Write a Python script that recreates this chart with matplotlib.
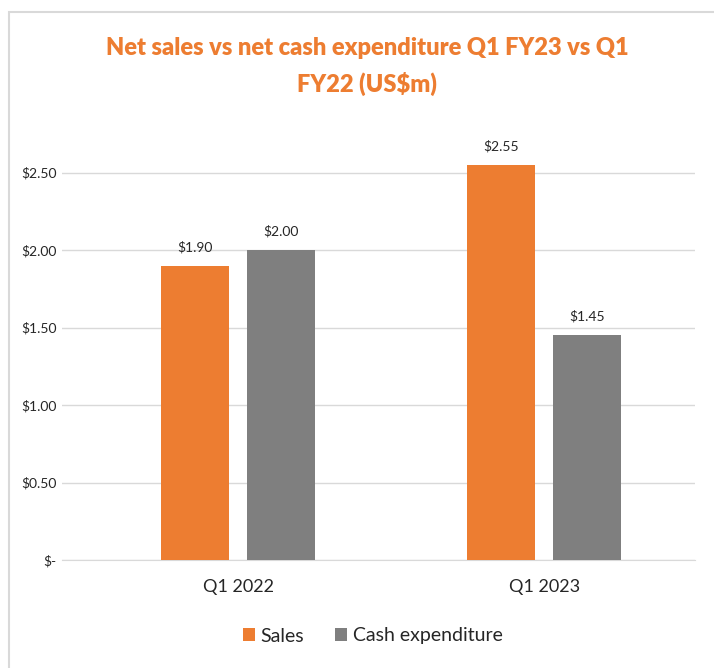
import matplotlib
matplotlib.use("Agg")
import matplotlib.pyplot as plt
from matplotlib.patches import Rectangle
from matplotlib.ticker import FuncFormatter
import numpy as np

categories = ["Q1 2022", "Q1 2023"]
sales = [1.90, 2.55]
cash_exp = [2.00, 1.45]
series_names = ["Sales", "Cash expenditure"]
yticks = [0, 0.5, 1.0, 1.5, 2.0, 2.5]

plt.rcParams['font.family'] = ['Lato', 'DejaVu Sans']

W, H = 714, 668
fig = plt.figure(figsize=(W/100, H/100), dpi=100)
fig.patches.append(Rectangle((9/W, -0.05), 1.2, 1 - 12/H + 0.05, transform=fig.transFigure,
                             fill=False, edgecolor='#D9D9D9', linewidth=1.5))

ax = fig.add_axes([62/W, 1-560/H, (695-62)/W, (560-103)/H])
orange = '#ED7D31'
gray = '#7F7F7F'
x = np.arange(len(categories))
bw = 0.222
gap = 0.059
off = (bw + gap) / 2
b1 = ax.bar(x - off, sales, bw, color=orange, label=series_names[0], zorder=3)
b2 = ax.bar(x + off, cash_exp, bw, color=gray, label=series_names[1], zorder=3)

for bars in (b1, b2):
    for r in bars:
        ax.annotate(f"${r.get_height():.2f}", (r.get_x() + r.get_width()/2, r.get_height()),
                    xytext=(0, 9), textcoords='offset points', ha='center', va='bottom',
                    fontsize=10, color='#262626')

ax.set_xlim(-0.575, 1.493)
ax.set_ylim(0, 2.95)
ax.set_yticks(yticks)
ax.yaxis.set_major_formatter(FuncFormatter(lambda v, p: "$-" if v == 0 else f"${v:.2f}"))
ax.grid(axis='y', color='#D9D9D9', linewidth=1, zorder=0)
ax.set_xticks(x)
ax.set_xticklabels(categories, fontsize=13, color='#262626')
for s in ['top', 'right', 'left']:
    ax.spines[s].set_visible(False)
ax.spines['bottom'].set_color('#D9D9D9')
ax.tick_params(axis='both', length=0)
ax.tick_params(axis='y', labelsize=10, labelcolor='#262626', pad=4)
ax.tick_params(axis='x', pad=14)

fig.text(367/W, 1-48/H, "Net sales vs net cash expenditure Q1 FY23 vs Q1", ha='center', va='center',
         fontsize=17, fontweight='heavy', color=orange)
fig.text(367/W, 1-84/H, "FY22 (US$m)", ha='center', va='center',
         fontsize=17, fontweight='heavy', color=orange)

fig.legend(handles=[b1, b2], labels=series_names, loc='center', bbox_to_anchor=(373/W, 1-636/H),
           ncol=2, frameon=False, fontsize=14, handlelength=0.6, handleheight=0.6,
           handletextpad=0.3, columnspacing=1.6, labelcolor='#262626')

fig.savefig("out.png", dpi=100)
